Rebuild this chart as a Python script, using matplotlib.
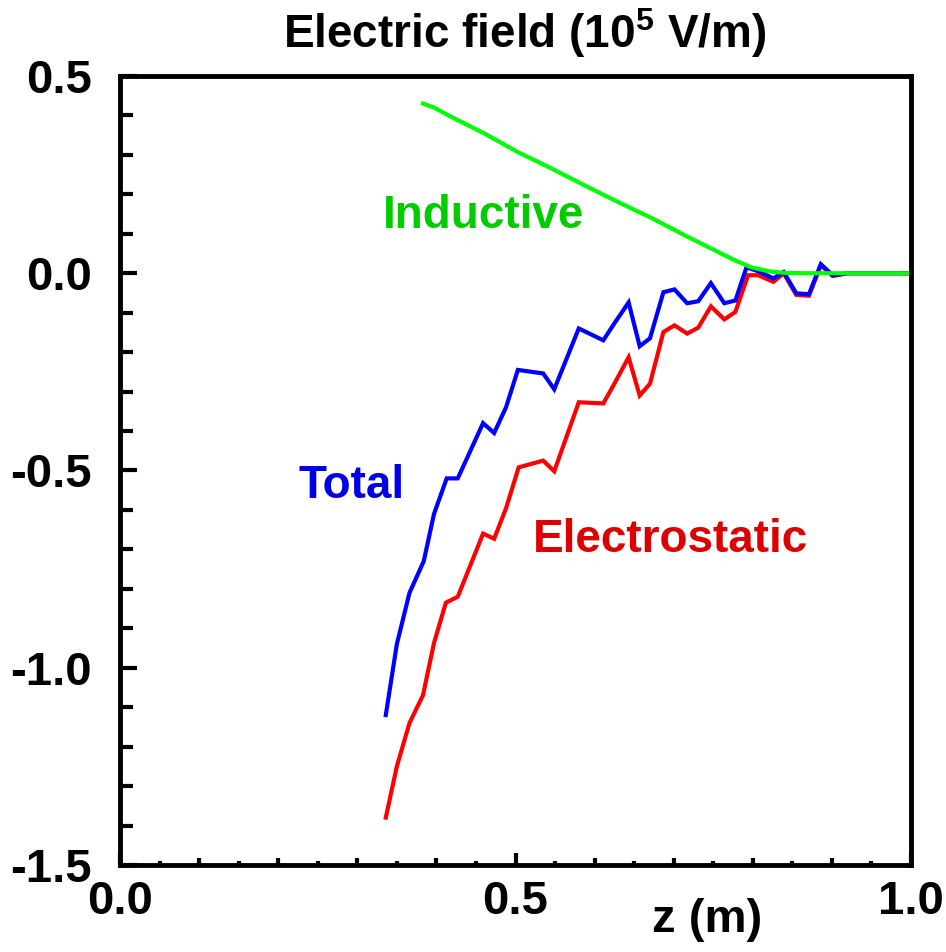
import matplotlib
matplotlib.use("Agg")
import matplotlib.pyplot as plt
import numpy as np

plt.rcParams['font.family'] = ['Liberation Sans', 'DejaVu Sans']
plt.rcParams['font.weight'] = 'bold'
plt.rcParams['mathtext.fontset'] = 'custom'
plt.rcParams['mathtext.rm'] = 'Liberation Sans:bold'
plt.rcParams['mathtext.default'] = 'rm'

# Total field
z_total = [0.336, 0.350, 0.366, 0.384, 0.397, 0.413, 0.427, 0.459, 0.473, 0.488,
           0.503, 0.535, 0.549, 0.580, 0.611, 0.625, 0.643, 0.657, 0.670, 0.687,
           0.701, 0.717, 0.731, 0.747, 0.764, 0.778, 0.792, 0.807, 0.826, 0.839,
           0.855, 0.871, 0.886, 0.901, 0.920, 1.0]
e_total = [-1.12, -0.94, -0.81, -0.73, -0.61, -0.52, -0.52, -0.38, -0.405, -0.34,
           -0.245, -0.254, -0.294, -0.14, -0.17, -0.127, -0.074, -0.185, -0.165, -0.048,
           -0.041, -0.076, -0.071, -0.025, -0.076, -0.069, 0.015, 0.005, -0.013, 0.003,
           -0.051, -0.053, 0.023, -0.005, 0.0, 0.0]

# Electrostatic field
z_es = [0.336, 0.350, 0.366, 0.383, 0.397, 0.412, 0.427, 0.459, 0.473, 0.488,
        0.504, 0.535, 0.549, 0.580, 0.611, 0.625, 0.643, 0.657, 0.670, 0.687,
        0.701, 0.717, 0.731, 0.747, 0.764, 0.778, 0.794, 0.807, 0.826, 0.839,
        0.855, 0.871, 0.886, 0.901, 0.920, 1.0]
e_es = [-1.38, -1.25, -1.14, -1.07, -0.937, -0.835, -0.82, -0.66, -0.673, -0.596,
        -0.492, -0.475, -0.502, -0.327, -0.330, -0.280, -0.213, -0.310, -0.280, -0.149,
        -0.132, -0.153, -0.138, -0.084, -0.117, -0.098, -0.005, -0.005, -0.022, 0.0,
        -0.055, -0.057, 0.02, -0.007, 0.0, 0.0]

# Inductive field
z_ind = [0.383, 0.397, 0.418, 0.460, 0.503, 0.545, 0.587, 0.630, 0.672, 0.714,
         0.757, 0.777, 0.798, 0.820, 0.840, 0.862, 1.0]
e_ind = [0.43, 0.42, 0.397, 0.355, 0.307, 0.266, 0.223, 0.180, 0.140, 0.096,
         0.053, 0.033, 0.015, 0.005, 0.001, 0.0, 0.0]

fig = plt.figure(figsize=(9.46, 9.52), dpi=100)
ax = fig.add_axes([120 / 946, 1 - 865 / 952, 791 / 946, 789 / 952])

ax.plot(z_es, e_es, color='#ff0000', lw=3, solid_joinstyle='miter')
ax.plot(z_total, e_total, color='#0000ff', lw=3, solid_joinstyle='miter')
ax.plot(z_ind, e_ind, color='#00ff00', lw=3)

ax.text(0.460, 0.114, 'Inductive', color='#00cc00', fontsize=33,
        fontweight='bold', ha='center', va='baseline')
ax.text(0.293, -0.570, 'Total', color='#0000e6', fontsize=33,
        fontweight='bold', ha='center', va='baseline')
ax.text(0.696, -0.707, 'Electrostatic', color='#dd0000', fontsize=33,
        fontweight='bold', ha='center', va='baseline')

ax.set_xlim(0, 1.0)
ax.set_ylim(-1.5, 0.5)

ax.set_xticks([0.0, 0.5, 1.0])
ax.set_xticklabels(['0.0', '0.5', '1.0'])
ax.set_xticks(np.arange(0.1, 1.0, 0.1), minor=True)
ax.set_yticks([-1.5, -1.0, -0.5, 0.0, 0.5])
ax.set_yticklabels(['-1.5', '-1.0', '-0.5', '0.0', '0.5'])
ax.set_yticks(np.arange(-1.4, 0.5, 0.1), minor=True)

ax.tick_params(axis='both', which='both', direction='in', width=3,
               top=False, right=False, labelsize=34)
ax.tick_params(axis='x', which='major', length=9, pad=11)
ax.tick_params(axis='x', which='minor', length=5)
ax.tick_params(axis='y', which='major', length=12, pad=20)
ax.tick_params(axis='y', which='minor', length=9)
for lab in ax.get_xticklabels() + ax.get_yticklabels():
    lab.set_fontweight('bold')

# short ticks at the odd 0.05 positions
sec = ax.secondary_xaxis('bottom')
sec.set_xticks(np.arange(0.05, 1.0, 0.1))
sec.tick_params(direction='in', length=3, width=3, labelbottom=False)
sec.spines['bottom'].set_visible(False)

for s in ax.spines.values():
    s.set_linewidth(3.5)

ax.text(0.512, 1.0 + 28 / 789, 'Electric field (10$^{5}$ V/m)', transform=ax.transAxes,
        fontsize=33, fontweight='bold', ha='center', va='baseline')
ax.text(0.742, -0.085, 'z (m)', transform=ax.transAxes,
        fontsize=34, fontweight='bold', ha='center', va='baseline')

fig.savefig('out.png', dpi=100)
